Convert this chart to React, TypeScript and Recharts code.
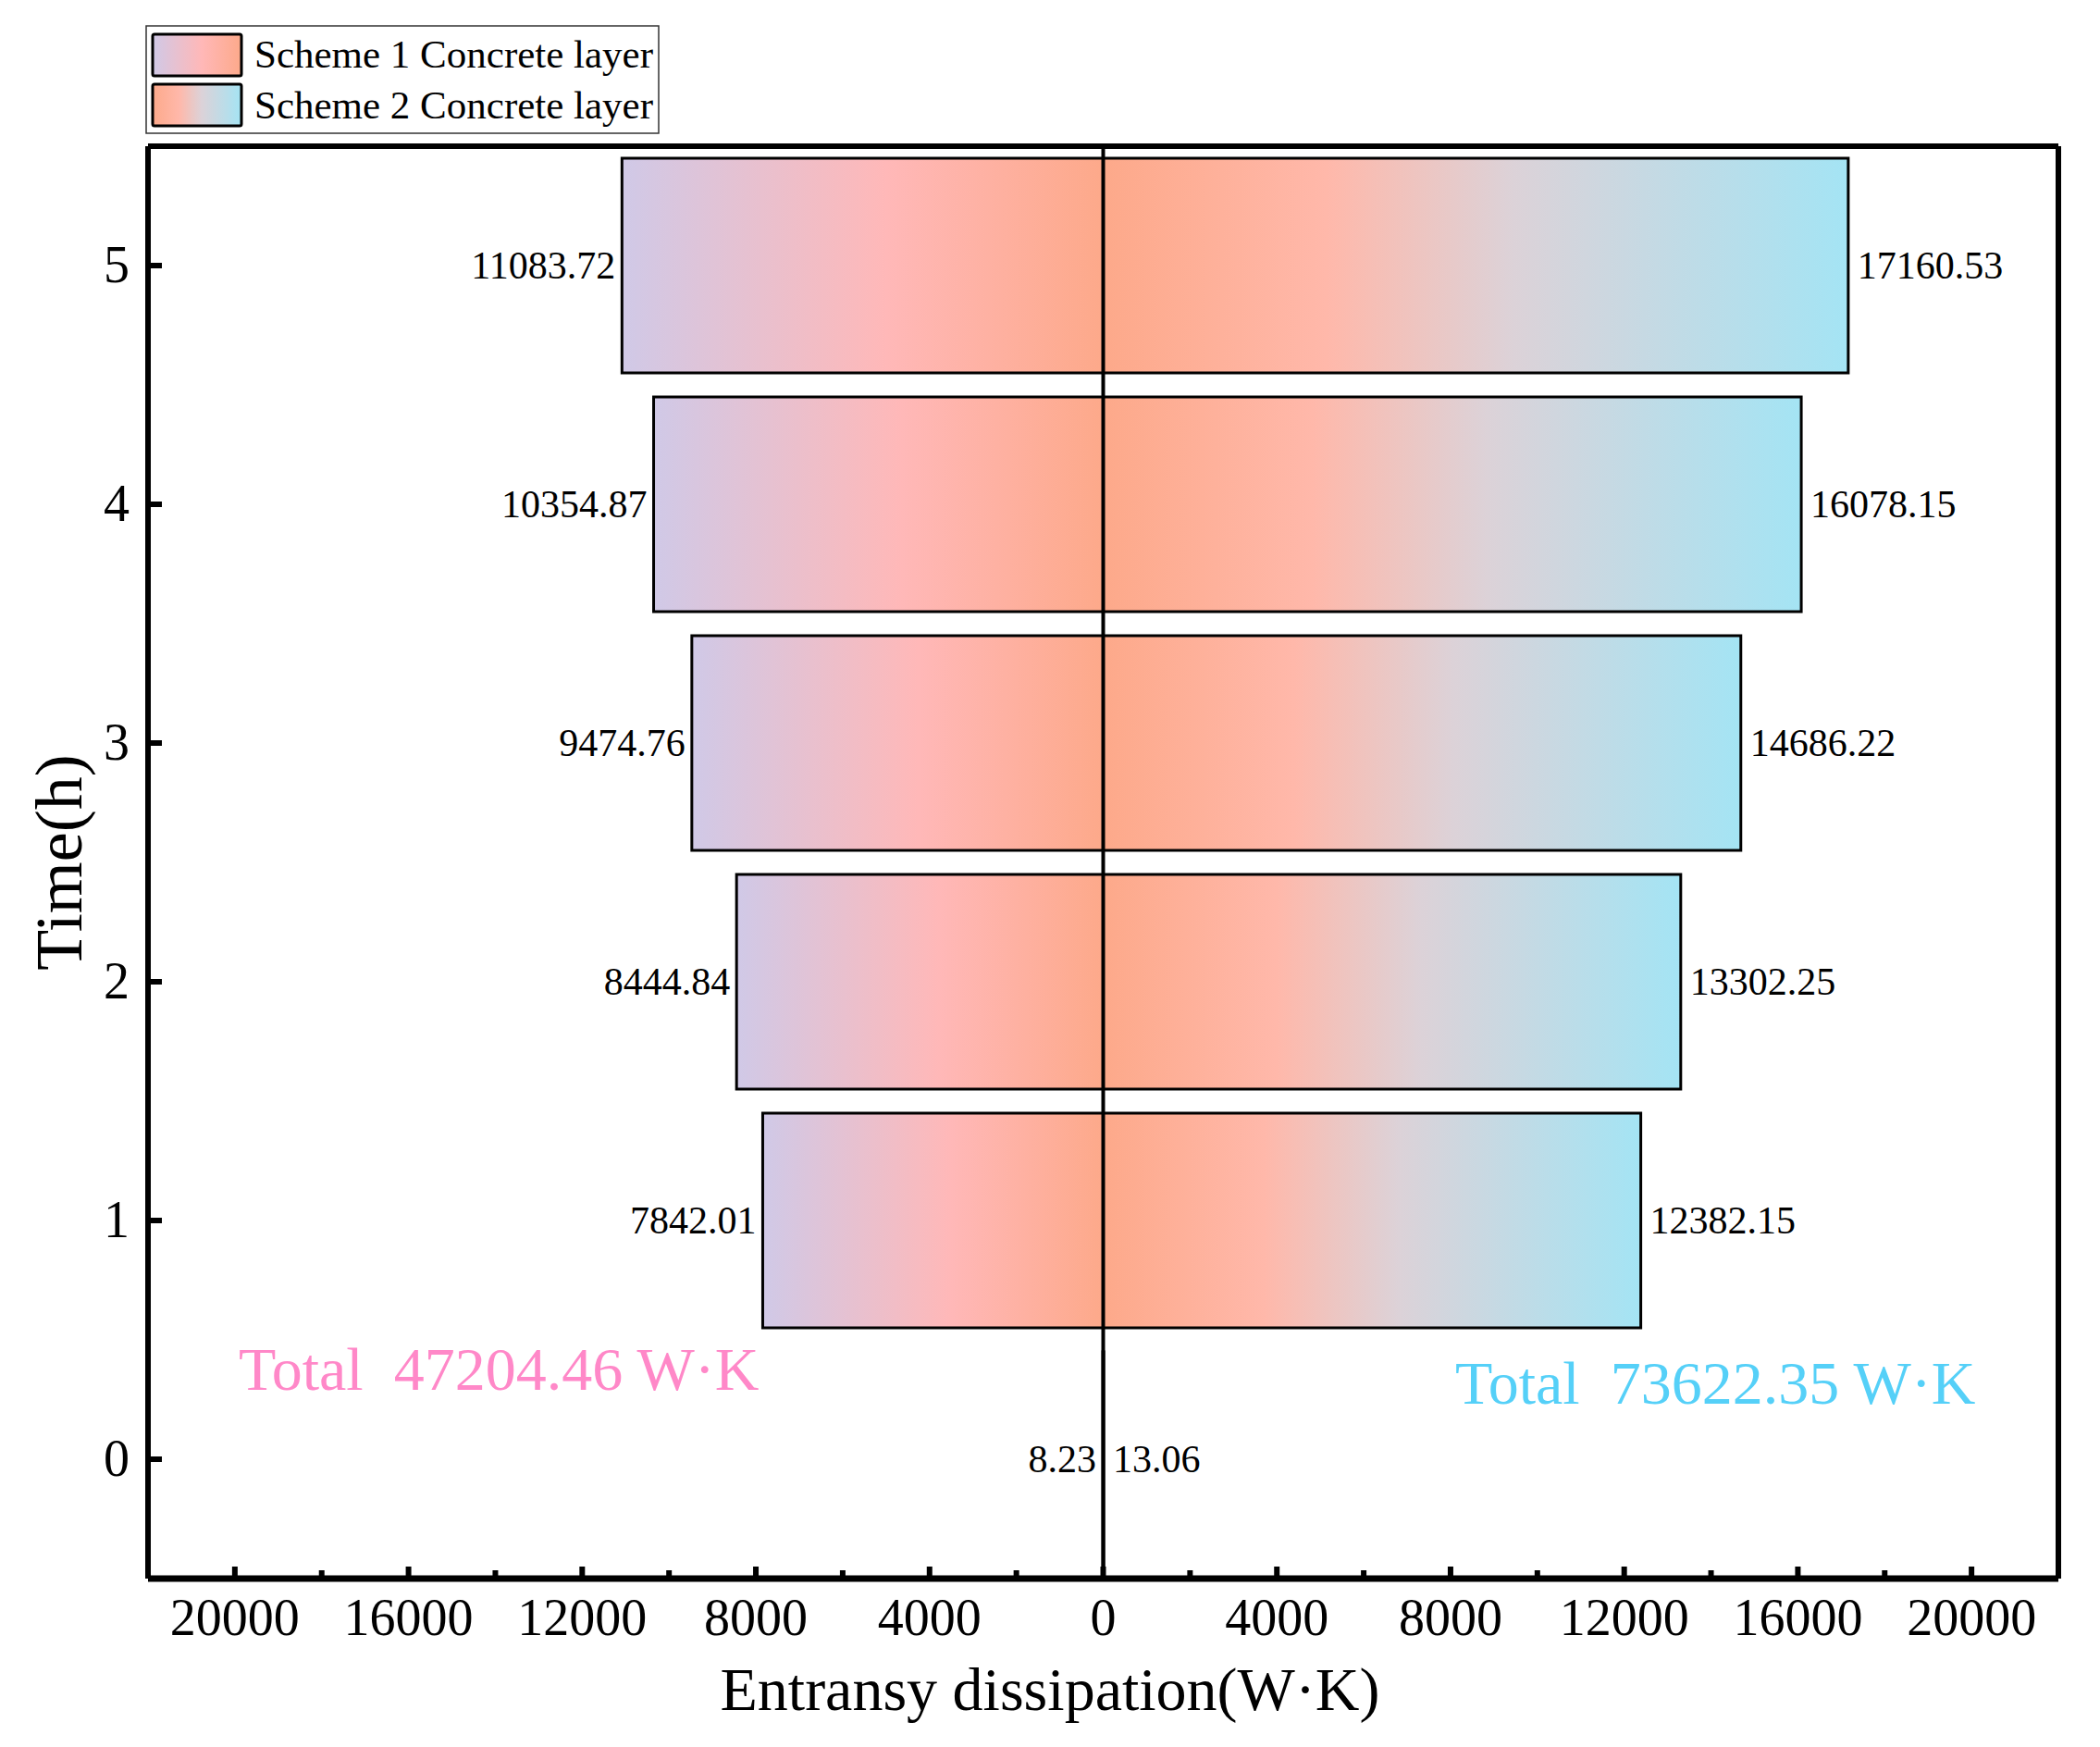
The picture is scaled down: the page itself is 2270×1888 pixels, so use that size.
import React from "react";
import {
  Bar,
  BarChart,
  LabelList,
  Legend,
  ReferenceLine,
  XAxis,
  YAxis,
} from "recharts";

const times = [0, 1, 2, 3, 4, 5];
const scheme1 = [8.23, 7842.01, 8444.84, 9474.76, 10354.87, 11083.72];
const scheme2 = [13.06, 12382.15, 13302.25, 14686.22, 16078.15, 17160.53];
const xTicks = [
  -20000, -18000, -16000, -14000, -12000, -10000, -8000, -6000, -4000, -2000, 0,
  2000, 4000, 6000, 8000, 10000, 12000, 14000, 16000, 18000, 20000,
];
const xDomain = [-22000, 22000];
const legendNames = ["Scheme 1 Concrete layer", "Scheme 2 Concrete layer"];
const totals = ["Total  47204.46 W·K", "Total  73622.35 W·K"];

const FONT = '"Liberation Serif", "Times New Roman", serif';

const data = times.map((t, i) => ({
  time: String(t),
  s1: -scheme1[i],
  s2: scheme2[i],
}));

function XTick(props: any) {
  const { x, y, payload } = props;
  const v = payload.value as number;
  const major = v % 4000 === 0;
  return (
    <g>
      <line x1={x} x2={x} y1={y} y2={y - (major ? 13 : 9)} stroke="#000" strokeWidth={6} />
      {major && (
        <text x={x} y={y + 61} textAnchor="middle" fontFamily={FONT} fontSize={56} fill="#000">
          {Math.abs(v)}
        </text>
      )}
    </g>
  );
}

function YTick(props: any) {
  const { x, y, payload } = props;
  return (
    <g>
      <line x1={x} x2={x + 15} y1={y} y2={y} stroke="#000" strokeWidth={6} />
      <text x={x - 20} y={y + 18} textAnchor="end" fontFamily={FONT} fontSize={56} fill="#000">
        {payload.value}
      </text>
    </g>
  );
}

function leftLabel(props: any) {
  const { x, y, width, height, value } = props;
  const left = Math.min(x, x + width);
  return (
    <text x={left - 7} y={y + height / 2 + 14} textAnchor="end" fontFamily={FONT} fontSize={42} fill="#000">
      {Math.abs(value).toFixed(2)}
    </text>
  );
}

function rightLabel(props: any) {
  const { x, y, width, height, value } = props;
  const right = Math.max(x, x + width);
  return (
    <text x={right + 10} y={y + height / 2 + 14} textAnchor="start" fontFamily={FONT} fontSize={42} fill="#000">
      {Math.abs(value).toFixed(2)}
    </text>
  );
}

function LegendBox() {
  return (
    <svg width={560} height={122} style={{ display: "block" }}>
      <defs>
        <linearGradient id="lg1" x1="0" y1="0" x2="1" y2="0">
          <stop offset="0%" stopColor="#d0c9e7" />
          <stop offset="55%" stopColor="#ffb8b8" />
          <stop offset="100%" stopColor="#fda98a" />
        </linearGradient>
        <linearGradient id="lg2" x1="0" y1="0" x2="1" y2="0">
          <stop offset="0%" stopColor="#fda98a" />
          <stop offset="30%" stopColor="#ffb8aa" />
          <stop offset="55%" stopColor="#dcd2d8" />
          <stop offset="100%" stopColor="#a4e4f4" />
        </linearGradient>
      </defs>
      <rect x={1} y={1} width={554} height={116} fill="#fff" stroke="#333" strokeWidth={1.5} />
      <rect x={8} y={10} width={96} height={45} rx={2} fill="url(#lg1)" stroke="#000" strokeWidth={3} />
      <rect x={8} y={64} width={96} height={45} rx={2} fill="url(#lg2)" stroke="#000" strokeWidth={3} />
      <text x={118} y={46} fontFamily={FONT} fontSize={43} fill="#000">
        {legendNames[0]}
      </text>
      <text x={118} y={101} fontFamily={FONT} fontSize={43} fill="#000">
        {legendNames[1]}
      </text>
    </svg>
  );
}

export default function App() {
  return (
    <div style={{ position: "absolute", left: 0, top: 0, width: 2270, height: 1888, background: "#fff" }}>
      <BarChart
        width={2270}
        height={1888}
        data={data}
        layout="vertical"
        stackOffset="sign"
        barCategoryGap="5%"
        margin={{ top: 158, right: 45, bottom: 82, left: 30 }}
      >
        <defs>
          <linearGradient id="g1" x1="0" y1="0" x2="1" y2="0">
            <stop offset="0%" stopColor="#d0c9e7" />
            <stop offset="55%" stopColor="#ffb8b8" />
            <stop offset="100%" stopColor="#fda98a" />
          </linearGradient>
          <linearGradient id="g2" x1="0" y1="0" x2="1" y2="0">
            <stop offset="0%" stopColor="#fda98a" />
            <stop offset="30%" stopColor="#ffb8aa" />
            <stop offset="55%" stopColor="#dcd2d8" />
            <stop offset="100%" stopColor="#a4e4f4" />
          </linearGradient>
        </defs>
        <XAxis
          type="number"
          domain={xDomain}
          ticks={xTicks}
          interval={0}
          tickSize={0}
          tickMargin={0}
          height={100}
          axisLine={{ stroke: "#000", strokeWidth: 7 }}
          tick={<XTick />}
        />
        <YAxis
          type="category"
          dataKey="time"
          reversed
          width={130}
          tickSize={0}
          tickMargin={0}
          axisLine={{ stroke: "#000", strokeWidth: 6 }}
          tick={<YTick />}
        />
        <Legend
          layout="horizontal"
          verticalAlign="middle"
          align="center"
          wrapperStyle={{ top: 27, left: 157, width: 560, height: 122 }}
          content={() => <LegendBox />}
        />
        <Bar dataKey="s1" stackId="a" fill="url(#g1)" stroke="#000" strokeWidth={3} isAnimationActive={false}>
          <LabelList dataKey="s1" content={leftLabel} />
        </Bar>
        <Bar dataKey="s2" stackId="a" fill="url(#g2)" stroke="#000" strokeWidth={3} isAnimationActive={false}>
          <LabelList dataKey="s2" content={rightLabel} />
        </Bar>
        <ReferenceLine x={0} stroke="#000" strokeWidth={4} />
        <ReferenceLine x={xDomain[1]} stroke="#000" strokeWidth={6} />
        <ReferenceLine y={String(times[times.length - 1])} position="start" stroke="#000" strokeWidth={6} />
        <text x={258} y={1502} fontFamily={FONT} fontSize={66} fill="#ff88c8" style={{ whiteSpace: "pre" }}>
          {totals[0]}
        </text>
        <text x={1573} y={1517} fontFamily={FONT} fontSize={66} fill="#55d0f8" style={{ whiteSpace: "pre" }}>
          {totals[1]}
        </text>
        <text
          x={88}
          y={932}
          textAnchor="middle"
          transform="rotate(-90, 88, 932)"
          fontFamily={FONT}
          fontSize={72}
          fill="#000"
        >
          Time(h)
        </text>
        <text x={1135} y={1848} textAnchor="middle" fontFamily={FONT} fontSize={66} fill="#000">
          Entransy dissipation(W·K)
        </text>
      </BarChart>
    </div>
  );
}
